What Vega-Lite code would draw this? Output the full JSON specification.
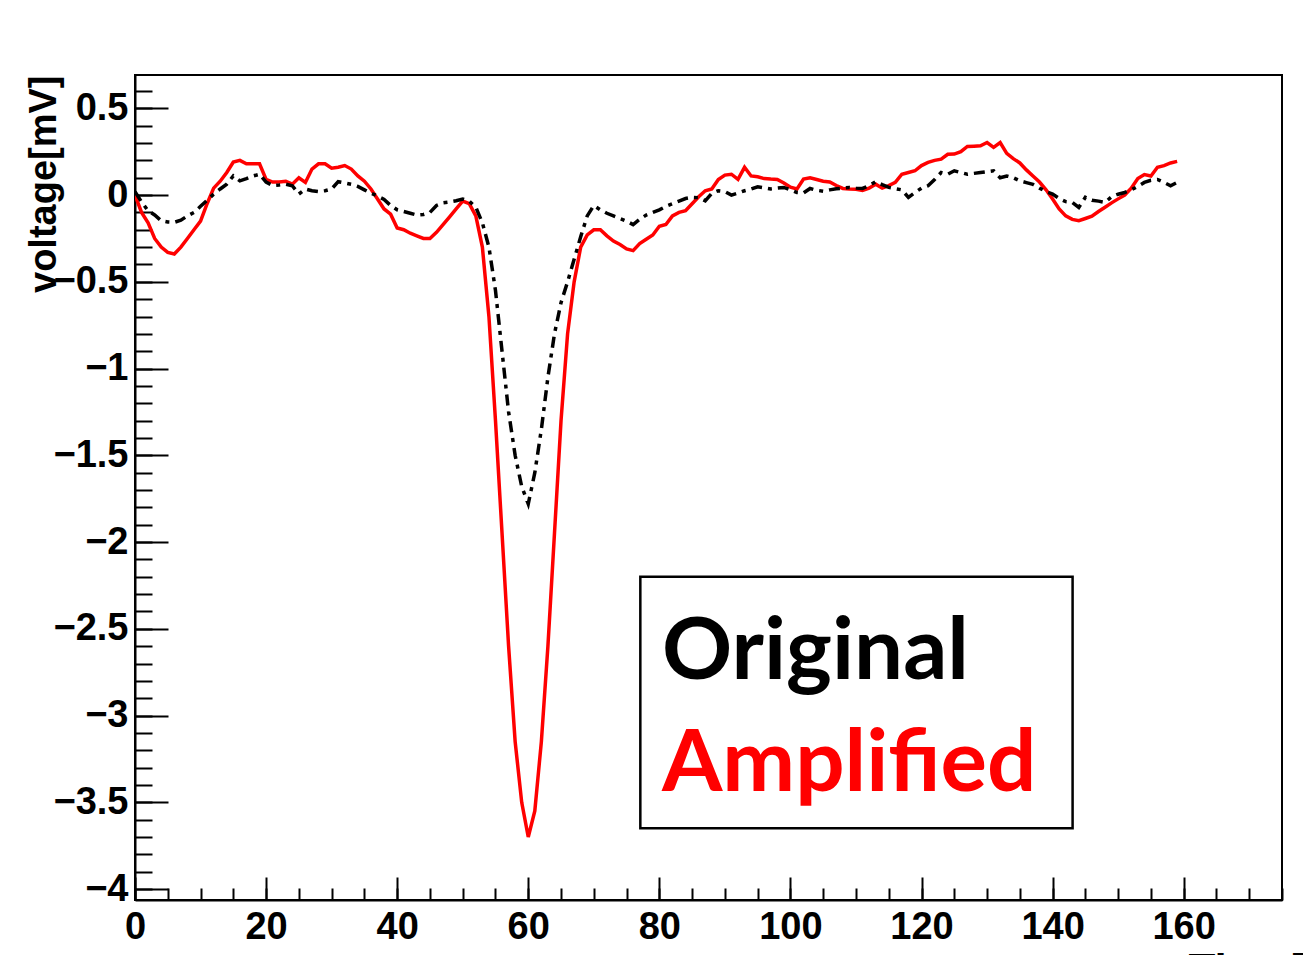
{
  "$schema": "https://vega.github.io/schema/vega-lite/v6.json",
  "width": 1147,
  "height": 825,
  "autosize": {"type": "none"},
  "padding": {"left": 135, "top": 75, "right": 21, "bottom": 55},
  "background": "white",
  "config": {
    "view": {"stroke": "black", "strokeWidth": 2},
    "axis": {"grid": false, "domainColor": "black", "tickColor": "black", "labelColor": "black", "titleColor": "black"}
  },
  "datasets": {
    "sig": [
      {"time":0,"series":"Amplified","voltage":0.0},{"time":1,"series":"Amplified","voltage":-0.1},{"time":2,"series":"Amplified","voltage":-0.16},{"time":3,"series":"Amplified","voltage":-0.25},{"time":4,"series":"Amplified","voltage":-0.3},{"time":5,"series":"Amplified","voltage":-0.33},{"time":6,"series":"Amplified","voltage":-0.34},{"time":7,"series":"Amplified","voltage":-0.3},{"time":8,"series":"Amplified","voltage":-0.25},{"time":9,"series":"Amplified","voltage":-0.2},
      {"time":10,"series":"Amplified","voltage":-0.15},{"time":11,"series":"Amplified","voltage":-0.05},{"time":12,"series":"Amplified","voltage":0.04},{"time":13,"series":"Amplified","voltage":0.08},{"time":14,"series":"Amplified","voltage":0.13},{"time":15,"series":"Amplified","voltage":0.19},{"time":16,"series":"Amplified","voltage":0.2},{"time":17,"series":"Amplified","voltage":0.18},{"time":18,"series":"Amplified","voltage":0.18},{"time":19,"series":"Amplified","voltage":0.18},
      {"time":20,"series":"Amplified","voltage":0.09},{"time":21,"series":"Amplified","voltage":0.075},{"time":22,"series":"Amplified","voltage":0.075},{"time":23,"series":"Amplified","voltage":0.08},{"time":24,"series":"Amplified","voltage":0.063},{"time":25,"series":"Amplified","voltage":0.1},{"time":26,"series":"Amplified","voltage":0.073},{"time":27,"series":"Amplified","voltage":0.15},{"time":28,"series":"Amplified","voltage":0.18},{"time":29,"series":"Amplified","voltage":0.18},
      {"time":30,"series":"Amplified","voltage":0.155},{"time":31,"series":"Amplified","voltage":0.16},{"time":32,"series":"Amplified","voltage":0.17},{"time":33,"series":"Amplified","voltage":0.15},{"time":34,"series":"Amplified","voltage":0.11},{"time":35,"series":"Amplified","voltage":0.08},{"time":36,"series":"Amplified","voltage":0.035},{"time":37,"series":"Amplified","voltage":-0.023},{"time":38,"series":"Amplified","voltage":-0.08},{"time":39,"series":"Amplified","voltage":-0.11},
      {"time":40,"series":"Amplified","voltage":-0.19},{"time":41,"series":"Amplified","voltage":-0.2},{"time":42,"series":"Amplified","voltage":-0.22},{"time":43,"series":"Amplified","voltage":-0.235},{"time":44,"series":"Amplified","voltage":-0.25},{"time":45,"series":"Amplified","voltage":-0.25},{"time":46,"series":"Amplified","voltage":-0.215},{"time":47,"series":"Amplified","voltage":-0.17},{"time":48,"series":"Amplified","voltage":-0.125},{"time":49,"series":"Amplified","voltage":-0.08},
      {"time":50,"series":"Amplified","voltage":-0.035},{"time":51,"series":"Amplified","voltage":-0.05},{"time":52,"series":"Amplified","voltage":-0.12},{"time":53,"series":"Amplified","voltage":-0.3},{"time":54,"series":"Amplified","voltage":-0.7},{"time":55,"series":"Amplified","voltage":-1.3},{"time":56,"series":"Amplified","voltage":-1.95},{"time":57,"series":"Amplified","voltage":-2.6},{"time":58,"series":"Amplified","voltage":-3.15},{"time":59,"series":"Amplified","voltage":-3.5},
      {"time":60,"series":"Amplified","voltage":-3.7},{"time":61,"series":"Amplified","voltage":-3.55},{"time":62,"series":"Amplified","voltage":-3.15},{"time":63,"series":"Amplified","voltage":-2.6},{"time":64,"series":"Amplified","voltage":-1.95},{"time":65,"series":"Amplified","voltage":-1.3},{"time":66,"series":"Amplified","voltage":-0.8},{"time":67,"series":"Amplified","voltage":-0.5},{"time":68,"series":"Amplified","voltage":-0.3},{"time":69,"series":"Amplified","voltage":-0.23},
      {"time":70,"series":"Amplified","voltage":-0.2},{"time":71,"series":"Amplified","voltage":-0.2},{"time":72,"series":"Amplified","voltage":-0.235},{"time":73,"series":"Amplified","voltage":-0.265},{"time":74,"series":"Amplified","voltage":-0.285},{"time":75,"series":"Amplified","voltage":-0.31},{"time":76,"series":"Amplified","voltage":-0.32},{"time":77,"series":"Amplified","voltage":-0.28},{"time":78,"series":"Amplified","voltage":-0.255},{"time":79,"series":"Amplified","voltage":-0.23},
      {"time":80,"series":"Amplified","voltage":-0.18},{"time":81,"series":"Amplified","voltage":-0.17},{"time":82,"series":"Amplified","voltage":-0.12},{"time":83,"series":"Amplified","voltage":-0.1},{"time":84,"series":"Amplified","voltage":-0.09},{"time":85,"series":"Amplified","voltage":-0.05},{"time":86,"series":"Amplified","voltage":-0.01},{"time":87,"series":"Amplified","voltage":0.025},{"time":88,"series":"Amplified","voltage":0.035},{"time":89,"series":"Amplified","voltage":0.09},
      {"time":90,"series":"Amplified","voltage":0.115},{"time":91,"series":"Amplified","voltage":0.12},{"time":92,"series":"Amplified","voltage":0.09},{"time":93,"series":"Amplified","voltage":0.16},{"time":94,"series":"Amplified","voltage":0.11},{"time":95,"series":"Amplified","voltage":0.105},{"time":96,"series":"Amplified","voltage":0.095},{"time":97,"series":"Amplified","voltage":0.092},{"time":98,"series":"Amplified","voltage":0.09},{"time":99,"series":"Amplified","voltage":0.07},
      {"time":100,"series":"Amplified","voltage":0.045},{"time":101,"series":"Amplified","voltage":0.035},{"time":102,"series":"Amplified","voltage":0.092},{"time":103,"series":"Amplified","voltage":0.1},{"time":104,"series":"Amplified","voltage":0.09},{"time":105,"series":"Amplified","voltage":0.08},{"time":106,"series":"Amplified","voltage":0.075},{"time":107,"series":"Amplified","voltage":0.055},{"time":108,"series":"Amplified","voltage":0.038},{"time":109,"series":"Amplified","voltage":0.035},
      {"time":110,"series":"Amplified","voltage":0.033},{"time":111,"series":"Amplified","voltage":0.027},{"time":112,"series":"Amplified","voltage":0.04},{"time":113,"series":"Amplified","voltage":0.063},{"time":114,"series":"Amplified","voltage":0.04},{"time":115,"series":"Amplified","voltage":0.055},{"time":116,"series":"Amplified","voltage":0.073},{"time":117,"series":"Amplified","voltage":0.12},{"time":118,"series":"Amplified","voltage":0.13},{"time":119,"series":"Amplified","voltage":0.14},
      {"time":120,"series":"Amplified","voltage":0.17},{"time":121,"series":"Amplified","voltage":0.188},{"time":122,"series":"Amplified","voltage":0.2},{"time":123,"series":"Amplified","voltage":0.207},{"time":124,"series":"Amplified","voltage":0.235},{"time":125,"series":"Amplified","voltage":0.236},{"time":126,"series":"Amplified","voltage":0.25},{"time":127,"series":"Amplified","voltage":0.28},{"time":128,"series":"Amplified","voltage":0.282},{"time":129,"series":"Amplified","voltage":0.284},
      {"time":130,"series":"Amplified","voltage":0.303},{"time":131,"series":"Amplified","voltage":0.275},{"time":132,"series":"Amplified","voltage":0.303},{"time":133,"series":"Amplified","voltage":0.24},{"time":134,"series":"Amplified","voltage":0.21},{"time":135,"series":"Amplified","voltage":0.185},{"time":136,"series":"Amplified","voltage":0.145},{"time":137,"series":"Amplified","voltage":0.11},{"time":138,"series":"Amplified","voltage":0.075},{"time":139,"series":"Amplified","voltage":0.03},
      {"time":140,"series":"Amplified","voltage":-0.023},{"time":141,"series":"Amplified","voltage":-0.08},{"time":142,"series":"Amplified","voltage":-0.12},{"time":143,"series":"Amplified","voltage":-0.14},{"time":144,"series":"Amplified","voltage":-0.148},{"time":145,"series":"Amplified","voltage":-0.135},{"time":146,"series":"Amplified","voltage":-0.122},{"time":147,"series":"Amplified","voltage":-0.095},{"time":148,"series":"Amplified","voltage":-0.07},{"time":149,"series":"Amplified","voltage":-0.045},
      {"time":150,"series":"Amplified","voltage":-0.022},{"time":151,"series":"Amplified","voltage":0.0},{"time":152,"series":"Amplified","voltage":0.04},{"time":153,"series":"Amplified","voltage":0.095},{"time":154,"series":"Amplified","voltage":0.118},{"time":155,"series":"Amplified","voltage":0.11},{"time":156,"series":"Amplified","voltage":0.16},{"time":157,"series":"Amplified","voltage":0.17},{"time":158,"series":"Amplified","voltage":0.185},{"time":159,"series":"Amplified","voltage":0.194},

      {"time":0,"series":"Original","voltage":0.02},{"time":1,"series":"Original","voltage":-0.04},{"time":2,"series":"Original","voltage":-0.09},{"time":3,"series":"Original","voltage":-0.115},{"time":4,"series":"Original","voltage":-0.148},{"time":5,"series":"Original","voltage":-0.155},{"time":6,"series":"Original","voltage":-0.157},{"time":7,"series":"Original","voltage":-0.145},{"time":8,"series":"Original","voltage":-0.12},{"time":9,"series":"Original","voltage":-0.1},
      {"time":10,"series":"Original","voltage":-0.065},{"time":11,"series":"Original","voltage":-0.03},{"time":12,"series":"Original","voltage":0.005},{"time":13,"series":"Original","voltage":0.035},{"time":14,"series":"Original","voltage":0.063},{"time":15,"series":"Original","voltage":0.11},{"time":16,"series":"Original","voltage":0.082},{"time":17,"series":"Original","voltage":0.095},{"time":18,"series":"Original","voltage":0.11},{"time":19,"series":"Original","voltage":0.12},
      {"time":20,"series":"Original","voltage":0.075},{"time":21,"series":"Original","voltage":0.055},{"time":22,"series":"Original","voltage":0.058},{"time":23,"series":"Original","voltage":0.063},{"time":24,"series":"Original","voltage":0.054},{"time":25,"series":"Original","voltage":0.006},{"time":26,"series":"Original","voltage":0.035},{"time":27,"series":"Original","voltage":0.025},{"time":28,"series":"Original","voltage":0.02},{"time":29,"series":"Original","voltage":0.025},
      {"time":30,"series":"Original","voltage":0.035},{"time":31,"series":"Original","voltage":0.077},{"time":32,"series":"Original","voltage":0.07},{"time":33,"series":"Original","voltage":0.062},{"time":34,"series":"Original","voltage":0.05},{"time":35,"series":"Original","voltage":0.03},{"time":36,"series":"Original","voltage":0.01},{"time":37,"series":"Original","voltage":-0.005},{"time":38,"series":"Original","voltage":-0.025},{"time":39,"series":"Original","voltage":-0.06},
      {"time":40,"series":"Original","voltage":-0.085},{"time":41,"series":"Original","voltage":-0.095},{"time":42,"series":"Original","voltage":-0.105},{"time":43,"series":"Original","voltage":-0.115},{"time":44,"series":"Original","voltage":-0.112},{"time":45,"series":"Original","voltage":-0.1},{"time":46,"series":"Original","voltage":-0.06},{"time":47,"series":"Original","voltage":-0.045},{"time":48,"series":"Original","voltage":-0.04},{"time":49,"series":"Original","voltage":-0.033},
      {"time":50,"series":"Original","voltage":-0.023},{"time":51,"series":"Original","voltage":-0.035},{"time":52,"series":"Original","voltage":-0.07},{"time":53,"series":"Original","voltage":-0.16},{"time":54,"series":"Original","voltage":-0.3},{"time":55,"series":"Original","voltage":-0.55},{"time":56,"series":"Original","voltage":-0.9},{"time":57,"series":"Original","voltage":-1.25},{"time":58,"series":"Original","voltage":-1.5},{"time":59,"series":"Original","voltage":-1.68},
      {"time":60,"series":"Original","voltage":-1.78},{"time":61,"series":"Original","voltage":-1.6},{"time":62,"series":"Original","voltage":-1.35},{"time":63,"series":"Original","voltage":-1.05},{"time":64,"series":"Original","voltage":-0.8},{"time":65,"series":"Original","voltage":-0.62},{"time":66,"series":"Original","voltage":-0.5},{"time":67,"series":"Original","voltage":-0.37},{"time":68,"series":"Original","voltage":-0.24},{"time":69,"series":"Original","voltage":-0.12},
      {"time":70,"series":"Original","voltage":-0.06},{"time":71,"series":"Original","voltage":-0.085},{"time":72,"series":"Original","voltage":-0.105},{"time":73,"series":"Original","voltage":-0.12},{"time":74,"series":"Original","voltage":-0.135},{"time":75,"series":"Original","voltage":-0.15},{"time":76,"series":"Original","voltage":-0.17},{"time":77,"series":"Original","voltage":-0.14},{"time":78,"series":"Original","voltage":-0.115},{"time":79,"series":"Original","voltage":-0.1},
      {"time":80,"series":"Original","voltage":-0.085},{"time":81,"series":"Original","voltage":-0.065},{"time":82,"series":"Original","voltage":-0.05},{"time":83,"series":"Original","voltage":-0.035},{"time":84,"series":"Original","voltage":-0.02},{"time":85,"series":"Original","voltage":-0.013},{"time":86,"series":"Original","voltage":-0.015},{"time":87,"series":"Original","voltage":-0.033},{"time":88,"series":"Original","voltage":0.01},{"time":89,"series":"Original","voltage":0.025},
      {"time":90,"series":"Original","voltage":0.02},{"time":91,"series":"Original","voltage":0.0},{"time":92,"series":"Original","voltage":0.012},{"time":93,"series":"Original","voltage":0.025},{"time":94,"series":"Original","voltage":0.035},{"time":95,"series":"Original","voltage":0.048},{"time":96,"series":"Original","voltage":0.042},{"time":97,"series":"Original","voltage":0.035},{"time":98,"series":"Original","voltage":0.04},{"time":99,"series":"Original","voltage":0.044},
      {"time":100,"series":"Original","voltage":0.03},{"time":101,"series":"Original","voltage":0.015},{"time":102,"series":"Original","voltage":0.012},{"time":103,"series":"Original","voltage":0.038},{"time":104,"series":"Original","voltage":0.028},{"time":105,"series":"Original","voltage":0.022},{"time":106,"series":"Original","voltage":0.03},{"time":107,"series":"Original","voltage":0.036},{"time":108,"series":"Original","voltage":0.04},{"time":109,"series":"Original","voltage":0.044},
      {"time":110,"series":"Original","voltage":0.04},{"time":111,"series":"Original","voltage":0.038},{"time":112,"series":"Original","voltage":0.055},{"time":113,"series":"Original","voltage":0.077},{"time":114,"series":"Original","voltage":0.06},{"time":115,"series":"Original","voltage":0.044},{"time":116,"series":"Original","voltage":0.037},{"time":117,"series":"Original","voltage":0.03},{"time":118,"series":"Original","voltage":-0.013},{"time":119,"series":"Original","voltage":0.015},
      {"time":120,"series":"Original","voltage":0.04},{"time":121,"series":"Original","voltage":0.054},{"time":122,"series":"Original","voltage":0.09},{"time":123,"series":"Original","voltage":0.13},{"time":124,"series":"Original","voltage":0.12},{"time":125,"series":"Original","voltage":0.14},{"time":126,"series":"Original","voltage":0.13},{"time":127,"series":"Original","voltage":0.12},{"time":128,"series":"Original","voltage":0.125},{"time":129,"series":"Original","voltage":0.13},
      {"time":130,"series":"Original","voltage":0.135},{"time":131,"series":"Original","voltage":0.14},{"time":132,"series":"Original","voltage":0.1},{"time":133,"series":"Original","voltage":0.11},{"time":134,"series":"Original","voltage":0.1},{"time":135,"series":"Original","voltage":0.082},{"time":136,"series":"Original","voltage":0.072},{"time":137,"series":"Original","voltage":0.062},{"time":138,"series":"Original","voltage":0.04},{"time":139,"series":"Original","voltage":0.02},
      {"time":140,"series":"Original","voltage":0.006},{"time":141,"series":"Original","voltage":-0.02},{"time":142,"series":"Original","voltage":-0.038},{"time":143,"series":"Original","voltage":-0.042},{"time":144,"series":"Original","voltage":-0.071},{"time":145,"series":"Original","voltage":-0.013},{"time":146,"series":"Original","voltage":-0.03},{"time":147,"series":"Original","voltage":-0.035},{"time":148,"series":"Original","voltage":-0.042},{"time":149,"series":"Original","voltage":-0.01},
      {"time":150,"series":"Original","voltage":0.005},{"time":151,"series":"Original","voltage":0.015},{"time":152,"series":"Original","voltage":0.03},{"time":153,"series":"Original","voltage":0.05},{"time":154,"series":"Original","voltage":0.073},{"time":155,"series":"Original","voltage":0.085},{"time":156,"series":"Original","voltage":0.09},{"time":157,"series":"Original","voltage":0.073},{"time":158,"series":"Original","voltage":0.054},{"time":159,"series":"Original","voltage":0.073}
    ],
    "box": [{"t1": 77.1, "t2": 143.05, "v1": -2.2, "v2": -3.65}],
    "labels": [
      {"label": "Original", "t": 80.4, "v": -2.79},
      {"label": "Amplified", "t": 80.4, "v": -3.435}
    ]
  },
  "resolve": {"axis": {"x": "independent", "y": "independent"}},
  "layer": [
    {
      "data": {"name": "sig"},
      "transform": [{"filter": "datum.series === 'Amplified'"}],
      "mark": {"type": "line", "color": "#ff0000", "strokeWidth": 3.5, "clip": true},
      "encoding": {
        "x": {"field": "time", "type": "quantitative",
          "scale": {"domain": [0, 175], "nice": false, "zero": false},
          "axis": {"values": [0, 20, 40, 60, 80, 100, 120, 140, 160], "tickSize": -23, "tickWidth": 2, "domainWidth": 2,
            "labelFont": "Liberation Sans", "labelFontWeight": "bold", "labelFontSize": 38, "labelPadding": 31, "labelFlush": false,
            "title": "Time[ms]", "titleFont": "Liberation Sans", "titleFontWeight": "bold", "titleFontSize": 44,
            "titleX": 1053, "titleY": 49, "titleAlign": "left", "titleBaseline": "top", "titleAnchor": null}},
        "y": {"field": "voltage", "type": "quantitative",
          "scale": {"domain": [-4.063, 0.692], "nice": false, "zero": false},
          "axis": {"values": [-4, -3.5, -3, -2.5, -2, -1.5, -1, -0.5, 0, 0.5], "format": "~g", "tickSize": -33, "tickWidth": 2, "domainWidth": 2,
            "labelFont": "Liberation Sans", "labelFontWeight": "bold", "labelFontSize": 38, "labelPadding": 40,
            "title": "voltage[mV]", "titleFont": "Liberation Sans", "titleFontWeight": "bold", "titleFontSize": 38,
            "titleAngle": -90, "titleX": -80, "titleY": 0, "titleAlign": "right", "titleBaseline": "alphabetic"}}
      }
    },
    {
      "data": {"name": "sig"},
      "transform": [{"filter": "datum.series === 'Original'"}],
      "mark": {"type": "line", "color": "black", "strokeWidth": 3.5, "strokeDash": [11, 6, 4, 6], "clip": true},
      "encoding": {
        "x": {"field": "time", "type": "quantitative",
          "scale": {"domain": [0, 175], "nice": false, "zero": false},
          "axis": {"orient": "bottom", "values": [0,5,10,15,20,25,30,35,40,45,50,55,60,65,70,75,80,85,90,95,100,105,110,115,120,125,130,135,140,145,150,155,160,165,170,175],
            "tickSize": -12, "tickWidth": 2, "labels": false, "domain": false, "title": null}},
        "y": {"field": "voltage", "type": "quantitative",
          "scale": {"domain": [-4.063, 0.692], "nice": false, "zero": false},
          "axis": {"orient": "left", "values": [-4,-3.9,-3.8,-3.7,-3.6,-3.5,-3.4,-3.3,-3.2,-3.1,-3,-2.9,-2.8,-2.7,-2.6,-2.5,-2.4,-2.3,-2.2,-2.1,-2,-1.9,-1.8,-1.7,-1.6,-1.5,-1.4,-1.3,-1.2,-1.1,-1,-0.9,-0.8,-0.7,-0.6,-0.5,-0.4,-0.3,-0.2,-0.1,0,0.1,0.2,0.3,0.4,0.5,0.6],
            "tickSize": -17, "tickWidth": 2, "labels": false, "domain": false, "title": null}}
      }
    },
    {
      "data": {"name": "box"},
      "mark": {"type": "rect", "fill": "white", "stroke": "black", "strokeWidth": 2.5},
      "encoding": {
        "x": {"field": "t1", "type": "quantitative", "scale": {"domain": [0, 175], "nice": false, "zero": false}, "axis": null},
        "x2": {"field": "t2"},
        "y": {"field": "v1", "type": "quantitative", "scale": {"domain": [-4.063, 0.692], "nice": false, "zero": false}, "axis": null},
        "y2": {"field": "v2"}
      }
    },
    {
      "data": {"name": "labels"},
      "mark": {"type": "text", "align": "left", "baseline": "alphabetic", "font": "Lato", "fontWeight": "bold", "fontSize": 87},
      "encoding": {
        "x": {"field": "t", "type": "quantitative", "scale": {"domain": [0, 175], "nice": false, "zero": false}, "axis": null},
        "y": {"field": "v", "type": "quantitative", "scale": {"domain": [-4.063, 0.692], "nice": false, "zero": false}, "axis": null},
        "text": {"field": "label"},
        "color": {"field": "label", "type": "nominal", "scale": {"domain": ["Original", "Amplified"], "range": ["black", "#ff0000"]}, "legend": null}
      }
    }
  ]
}
